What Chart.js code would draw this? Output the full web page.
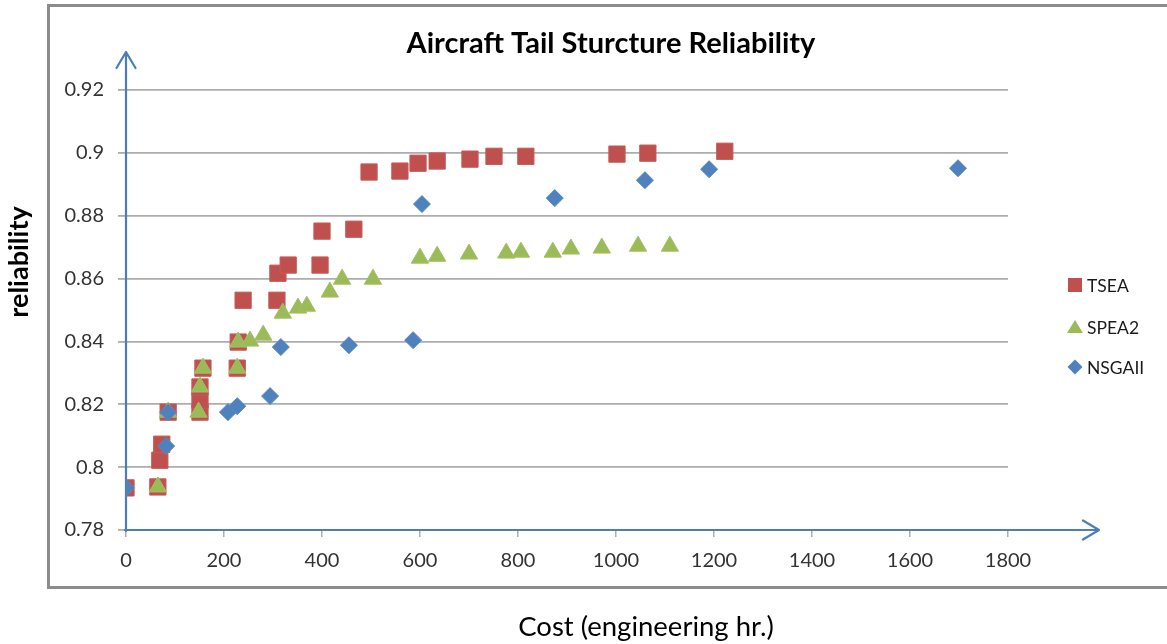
<!DOCTYPE html>
<html>
<head>
<meta charset="utf-8">
<title>Aircraft Tail Sturcture Reliability</title>
<script src="https://cdn.jsdelivr.net/npm/chart.js@4/dist/chart.umd.min.js"></script>
<style>
  html, body { margin: 0; padding: 0; background: #ffffff; }
  #wrap { position: relative; width: 1167px; height: 644px; }
</style>
</head>
<body>
<div id="wrap"><canvas id="chart" width="1167" height="644"></canvas></div>
<script>
// Series: cost in engineering hours, reliability
const tseaCost = [0, 65, 69, 73, 86, 151, 151, 151, 157, 227, 229, 239, 308, 310, 331, 396, 400, 465, 496, 559, 596, 635, 702, 751, 816, 1002, 1065, 1222];
const tseaRel  = [0.7934, 0.7937, 0.8022, 0.8073, 0.8175, 0.8175, 0.8213, 0.8255, 0.8315, 0.8315, 0.8398, 0.8531, 0.8531, 0.8617, 0.8643, 0.8643, 0.8751, 0.8757, 0.8939, 0.8942, 0.8967, 0.8974, 0.8980, 0.8989, 0.8989, 0.8996, 0.8999, 0.9005];

const spea2Cost = [65, 86, 148, 151, 157, 227, 229, 253, 280, 320, 351, 369, 416, 441, 504, 600, 635, 700, 776, 806, 871, 908, 971, 1045, 1110];
const spea2Rel  = [0.7937, 0.8175, 0.8175, 0.8255, 0.8315, 0.8315, 0.8398, 0.8401, 0.8420, 0.8490, 0.8506, 0.8512, 0.8557, 0.8598, 0.8598, 0.8665, 0.8671, 0.8678, 0.8681, 0.8684, 0.8684, 0.8694, 0.8697, 0.8703, 0.8703];

const nsgaCost = [0, 82, 86, 208, 227, 294, 316, 455, 586, 604, 875, 1059, 1190, 1698];
const nsgaRel  = [0.7934, 0.8067, 0.8175, 0.8175, 0.8194, 0.8226, 0.8382, 0.8388, 0.8404, 0.8837, 0.8856, 0.8913, 0.8948, 0.8951];

const seriesNames = ['TSEA', 'SPEA2', 'NSGAII'];

// Axis ticks and their labels
const xTicks = [0, 200, 400, 600, 800, 1000, 1200, 1400, 1600, 1800];
const xTickLabels = ['0', '200', '400', '600', '800', '1000', '1200', '1400', '1600', '1800'];
const yTicks = [0.78, 0.80, 0.82, 0.84, 0.86, 0.88, 0.90, 0.92];
const yTickLabels = ['0.78', '0.8', '0.82', '0.84', '0.86', '0.88', '0.9', '0.92'];

const chartTitle = 'Aircraft Tail Sturcture Reliability';
const xTitle = 'Cost (engineering hr.)';
const yTitle = 'reliability';

const FONT = 'Lato, "Open Sans", "DejaVu Sans", sans-serif';
const RED = '#C0504D', GREEN = '#9BBB59', BLUE = '#4F81BD';
const AXIS_BLUE = '#4A7EBB';
const GRID = '#ADADAD';

const toPoints = (xs, ys) => xs.map((x, i) => ({ x: x, y: ys[i] }));

// Frame, titles, axis arrows and legend
const decor = {
  id: 'decor',
  beforeDraw(chart) {
    const ctx = chart.ctx;
    ctx.save();
    ctx.fillStyle = '#ffffff';
    ctx.fillRect(0, 0, chart.width, chart.height);
    ctx.strokeStyle = '#8C8C8C';
    ctx.lineWidth = 3;
    ctx.strokeRect(48.5, 5.5, 1200, 582);
    ctx.restore();
  },
  beforeDatasetsDraw(chart) {
    const ctx = chart.ctx;
    const xs = chart.scales.x, ys = chart.scales.y;
    const ox = xs.getPixelForValue(0);
    const oy = ys.getPixelForValue(0.78);
    const topY = ys.top - 38;
    const rightX = xs.right + 91;
    ctx.save();
    ctx.strokeStyle = AXIS_BLUE;
    ctx.lineWidth = 2.2;
    ctx.lineCap = 'round';
    ctx.lineJoin = 'round';
    ctx.beginPath();
    ctx.moveTo(ox, oy + 1);
    ctx.lineTo(ox, topY);
    ctx.moveTo(ox - 9.5, topY + 16);
    ctx.lineTo(ox, topY);
    ctx.lineTo(ox + 9.5, topY + 16);
    ctx.moveTo(ox - 1, oy);
    ctx.lineTo(rightX, oy);
    ctx.moveTo(rightX - 16, oy - 9.5);
    ctx.lineTo(rightX, oy);
    ctx.lineTo(rightX - 16, oy + 9.5);
    ctx.stroke();
    ctx.restore();
  },
  afterDraw(chart) {
    const ctx = chart.ctx;
    ctx.save();
    ctx.fillStyle = '#000000';
    ctx.textAlign = 'center';
    ctx.textBaseline = 'middle';
    ctx.font = 'bold 29px ' + FONT;
    ctx.fillText(chartTitle, 611, 44);
    ctx.font = '27.5px ' + FONT;
    ctx.fillText(xTitle, 646, 627);
    ctx.save();
    ctx.translate(19, 262);
    ctx.rotate(-Math.PI / 2);
    ctx.font = 'bold 27px ' + FONT;
    ctx.fillText(yTitle, 0, 0);
    ctx.restore();

    // legend
    const rows = [285, 327, 367];
    chart.data.datasets.forEach((ds, i) => {
      const cx = 1075, cy = rows[i];
      ctx.fillStyle = ds.backgroundColor;
      ctx.beginPath();
      if (ds.pointStyle === 'rect') {
        ctx.rect(cx - 7, cy - 7, 14, 14);
      } else if (ds.pointStyle === 'triangle') {
        ctx.moveTo(cx - 8, cy + 6);
        ctx.lineTo(cx, cy - 7);
        ctx.lineTo(cx + 8, cy + 6);
        ctx.closePath();
      } else {
        ctx.moveTo(cx - 7.5, cy);
        ctx.lineTo(cx, cy - 7.5);
        ctx.lineTo(cx + 7.5, cy);
        ctx.lineTo(cx, cy + 7.5);
        ctx.closePath();
      }
      ctx.fill();
      ctx.fillStyle = '#1a1a1a';
      ctx.textAlign = 'left';
      ctx.textBaseline = 'middle';
      ctx.font = '17.5px ' + FONT;
      ctx.fillText(ds.label, 1087, cy + 1);
    });
    ctx.restore();
  }
};

new Chart(document.getElementById('chart'), {
  type: 'scatter',
  data: {
    datasets: [
      { label: seriesNames[0], data: toPoints(tseaCost, tseaRel), pointStyle: 'rect',
        backgroundColor: RED, borderColor: '#C45B58', borderWidth: 1, pointRadius: 11.5, order: 3 },
      { label: seriesNames[1], data: toPoints(spea2Cost, spea2Rel), pointStyle: 'triangle',
        backgroundColor: GREEN, borderColor: '#A2C063', borderWidth: 1, pointRadius: 10, order: 2 },
      { label: seriesNames[2], data: toPoints(nsgaCost, nsgaRel), pointStyle: 'rectRot',
        backgroundColor: BLUE, borderColor: '#5A89C2', borderWidth: 1, pointRadius: 8.5, order: 1 }
    ]
  },
  options: {
    responsive: false,
    animation: false,
    events: [],
    layout: { padding: { left: 0, right: 159, top: 90, bottom: 0 } },
    plugins: {
      legend: { display: false },
      title: { display: false },
      tooltip: { enabled: false }
    },
    scales: {
      x: {
        type: 'linear',
        min: 0, max: 1800,
        afterBuildTicks: s => { s.ticks = xTicks.map(v => ({ value: v })); },
        afterFit: s => { s.height = 114; },
        ticks: {
          callback: (v) => xTickLabels[xTicks.indexOf(v)],
          color: '#333333',
          font: { family: FONT, size: 20 },
          padding: 12,
          maxRotation: 0,
          autoSkip: false
        },
        grid: { drawOnChartArea: false, drawTicks: true, tickLength: 7, color: GRID, lineWidth: 1.5 },
        border: { display: false }
      },
      y: {
        type: 'linear',
        min: 0.78, max: 0.92,
        afterBuildTicks: s => { s.ticks = yTicks.map(v => ({ value: v })); },
        afterFit: s => { s.width = 126; },
        ticks: {
          callback: (v) => {
            const i = yTicks.findIndex(t => Math.abs(t - v) < 1e-9);
            return i >= 0 ? yTickLabels[i] : '';
          },
          color: '#333333',
          font: { family: FONT, size: 20 },
          padding: 14,
          autoSkip: false
        },
        grid: { drawOnChartArea: true, drawTicks: true, tickLength: 8, color: GRID, lineWidth: 1.8 },
        border: { display: false }
      }
    }
  },
  plugins: [decor]
});
</script>
</body>
</html>
